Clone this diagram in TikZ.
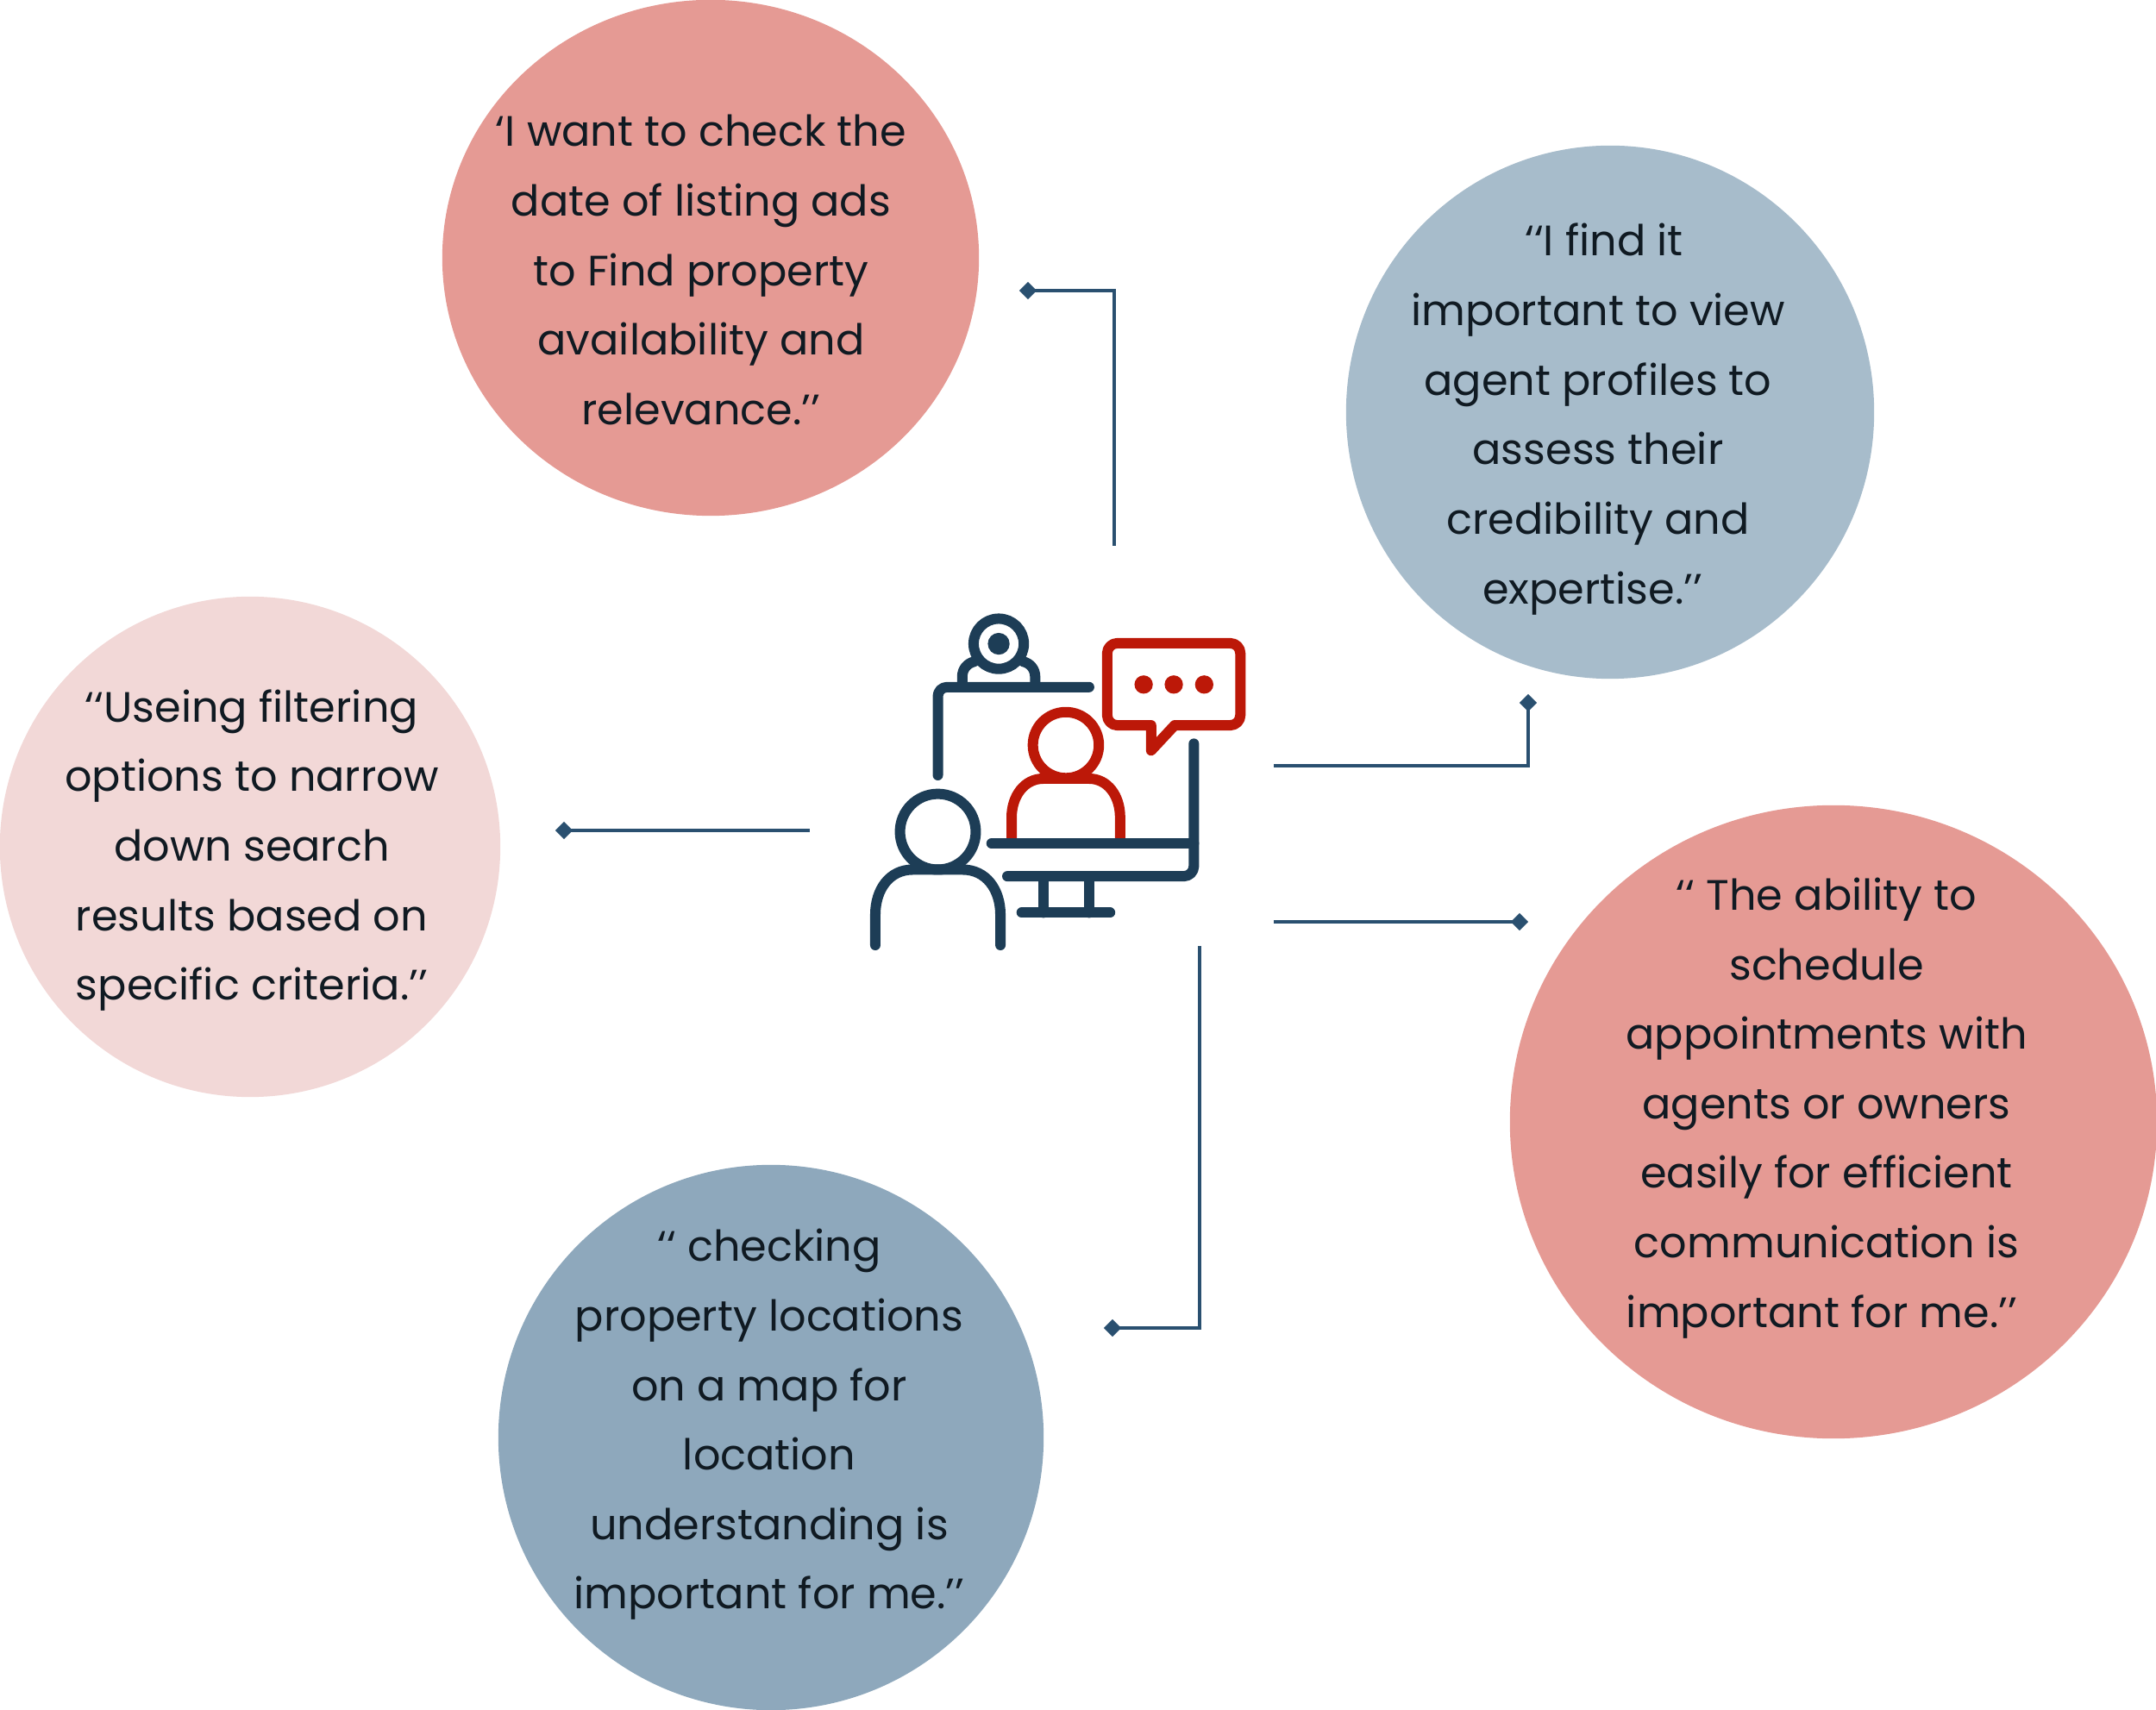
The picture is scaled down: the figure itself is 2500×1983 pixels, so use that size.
\documentclass[tikz,border=0pt]{standalone}
\usepackage{fontspec}
\setmainfont{Poppins}
\usetikzlibrary{shapes.geometric}
\definecolor{cRed}{HTML}{E59A94}
\definecolor{cBlue}{HTML}{A7BCCB}
\definecolor{cPink}{HTML}{F2D8D7}
\definecolor{cSteel}{HTML}{8EA8BC}
\definecolor{cText}{HTML}{101A22}
\definecolor{cNavy}{HTML}{1D3D56}
\definecolor{cIconRed}{HTML}{BC1808}
\definecolor{cLink}{HTML}{2A5070}
\newcommand{\dq}{’’}
\newcommand{\oq}{‘‘}
\tikzset{
  x=0.01cm,y=-0.01cm,
  bubble/.style={ellipse,draw=none,inner sep=0pt,outer sep=0pt,minimum width=#1},
  quote/.style={align=center,text=cText,inner sep=0pt,font=\fontsize{14.03}{22.93}\selectfont},
  tipnode/.style={diamond,fill=cLink,draw=none,inner sep=0pt,minimum width=0.21cm,minimum height=0.21cm},
  linkline/.style={draw=cLink,line width=0.033cm},
  navy/.style={draw=cNavy,line width=0.12cm,line cap=round,line join=round},
  redline/.style={draw=cIconRed,line width=0.12cm,line join=round},
}
\begin{document}
\begin{tikzpicture}
\useasboundingbox (0,0) rectangle (2500,1983);
% circles
\node[bubble=6.22cm,minimum height=5.98cm,fill=cRed] (c1) at (824,299) {};
\node[bubble=6.12cm,minimum height=6.18cm,fill=cBlue] (c2) at (1867,478) {};
\node[bubble=5.80cm,minimum height=5.80cm,fill=cPink] (c3) at (290,982) {};
\node[bubble=7.50cm,minimum height=7.34cm,fill=cRed] (c4) at (2126,1301) {};
\node[bubble=6.32cm,minimum height=6.32cm,fill=cSteel] (c5) at (894,1667) {};
% quotes
\node[quote] (t1) at (813,313) {‘I want to check the\\date of listing ads\\to Find property\\availability and\\relevance.\dq};
\node[quote] (t2) at (1853,486) {\hspace*{0.14cm}\oq I find it\\important to view\\agent profiles to\\assess their\\credibility and\\expertise.\dq\hspace*{0.13cm}};
\node[quote] (t3) at (292,986) {\oq Useing filtering\\options to narrow\\down search\\results based on\\specific criteria.\dq};
\node[quote] (t4) at (2118,1285) {\oq{} The ability to\\schedule\\appointments with\\agents or owners\\easily for efficient\\communication is\\important for me.\dq\hspace*{0.11cm}};
\node[quote] (t5) at (892,1652) {\oq{} checking\\property locations\\on a map for\\location\\understanding is\\important for me.\dq};
% connectors
\node[tipnode] (d1) at (1192,337) {};
\node[tipnode] (d2) at (1772,815) {};
\node[tipnode] (d3) at (1762,1069) {};
\node[tipnode] (d4) at (654,963) {};
\node[tipnode] (d5) at (1290,1540) {};
\coordinate (e1) at (1292,633);
\coordinate (e2) at (1477,888);
\coordinate (e3) at (1477,1069);
\coordinate (e4) at (939,963);
\coordinate (e5) at (1391,1097);
\draw[linkline] (d1.center) -| (e1);
\draw[linkline] (d2.center) |- (e2);
\draw[linkline] (e3) -- (d3.center);
\draw[linkline] (d4.center) -- (e4);
\draw[linkline] (e5) |- (d5.center);
% icon
\begin{scope}[shift={(980,690)},x=0.003333cm,y=-0.003333cm]
  % red person
  \draw[redline] (769,523) circle (115);
  \draw[redline] (580,850) -- (580,775) .. controls (580,700) and (625,640) .. (690,640) -- (850,640) .. controls (915,640) and (958,700) .. (958,775) -- (958,850);
  % bubble
  \draw[redline,line cap=round] (948,168) -- (1342,168) arc[start angle=-90,end angle=0,radius=35] -- (1377,419) arc[start angle=0,end angle=90,radius=35] -- (1148,454) -- (1066,542) -- (1066,454) -- (948,454) arc[start angle=90,end angle=180,radius=35] -- (913,203) arc[start angle=180,end angle=270,radius=35] -- cycle;
  \fill[cIconRed] (1040,312) circle (32) (1145,312) circle (32) (1251,312) circle (32);
  % webcam
  \draw[navy] (408,321) -- (408,285) .. controls (408,258) and (425,238) .. (450,232);
  \draw[navy] (662,321) -- (662,285) .. controls (662,258) and (645,238) .. (620,232);
  \path[fill=white] (535,170) circle (87);
  \draw[navy] (535,170) circle (87.5);
  \fill[cNavy] (535,170) circle (38);
  % monitor
  \draw[navy] (850,321) -- (355,321) arc[start angle=-90,end angle=-180,radius=32] -- (323,628);
  \draw[navy] (510,866) -- (1215,866);
  \draw[navy] (1215,518) -- (1215,945) arc[start angle=0,end angle=90,radius=35] -- (565,980);
  \draw[navy] (690,980) -- (690,1107);
  \draw[navy] (849,980) -- (849,1107);
  \draw[navy] (615,1107) -- (923,1107);
  % front person
  \draw[navy] (323,825) circle (132);
  \draw[navy] (105,1220) -- (105,1115) .. controls (105,1025) and (155,957) .. (235,957) -- (410,957) .. controls (490,957) and (541,1025) .. (541,1115) -- (541,1220);
\end{scope}
\end{tikzpicture}
\end{document}
